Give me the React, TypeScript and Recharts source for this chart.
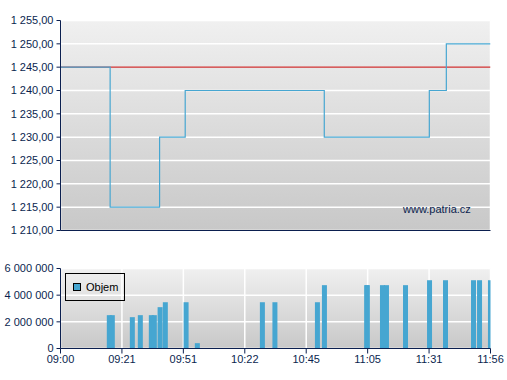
import React from 'react';
import { ComposedChart, Line, Bar, XAxis, YAxis, CartesianGrid, Legend } from 'recharts';

// x positions are in "tick slots": 0 = 09:00, 7 = 11:56 (axis is evenly spaced, not linear in time)
const timeLabels = ['09:00', '09:21', '09:51', '10:22', '10:45', '11:05', '11:31', '11:56'];
const slotTicks = [0, 1, 2, 3, 4, 5, 6, 7];

const priceX = [0, 0.808, 1.613, 2.03, 4.294, 6.004, 6.281, 7];
const priceY = [1245, 1215, 1230, 1240, 1230, 1240, 1250, 1250];
const prevClose = 1245;
const priceTicks = [1210, 1215, 1220, 1225, 1230, 1235, 1240, 1245, 1250, 1255];

const volX = [
  0.795, 0.844, 1.17, 1.3, 1.479, 1.528, 1.622, 1.707, 2.045, 2.228,
  3.287, 3.491, 4.183, 4.297, 4.985, 4.995, 5.242, 5.307, 5.617, 6.008,
  6.268, 6.724, 6.822, 7.0,
];
const volY = [
  2500000, 2500000, 2350000, 2500000, 2500000, 2500000, 3100000, 3470000, 3470000, 400000,
  3470000, 3470000, 3470000, 4750000, 4750000, 4750000, 4750000, 4750000, 4750000, 5120000,
  5120000, 5120000, 5120000, 5120000,
];
const volTicks = [0, 2000000, 4000000, 6000000];

const priceData = priceX.map((x, i) => ({ x, price: priceY[i] }));
const prevData = [{ x: 0, prev: prevClose }, { x: 7, prev: prevClose }];
const volData = volX.map((x, i) => ({ x, vol: volY[i] }));

const BLUE = '#46a6d1';
const NAVY = '#0b1f4f';
const FONT = '"Liberation Sans", Arial, sans-serif';
const tickStyle = { fontSize: 11, fill: NAVY, fontFamily: FONT };

// thousands grouped with a non-breaking space so the tick text never wraps
const groupSpace = (n: number) => {
  const s = Math.round(n).toString();
  return s.replace(/\B(?=(\d{3})+(?!\d))/g, '\u00a0');
};
const fmtPrice = (v: number) => groupSpace(Math.floor(v)) + ',' + v.toFixed(2).split('.')[1];

// keep a fixed bar width no matter how close two trades are
const VolBar = (p: any) => {
  const cx = p.x + p.width / 2;
  return <rect x={cx - 2.5} y={p.y} width={5} height={p.height} fill={BLUE} />;
};

const LegendBox = () => (
  <div
    style={{
      width: 58,
      height: 26,
      border: '1px solid #000',
      display: 'flex',
      alignItems: 'center',
      fontFamily: FONT,
      fontSize: 11,
      color: '#000',
    }}
  >
    <span
      style={{
        display: 'inline-block',
        width: 6,
        height: 6,
        background: BLUE,
        border: '1px solid #000',
        marginLeft: 7,
        marginRight: 5,
      }}
    />
    Objem
  </div>
);

export default function App() {
  return (
    <div style={{ position: 'absolute', left: 0, top: 0, width: 507, height: 380, background: '#fff' }}>
      <div style={{ position: 'absolute', left: 0, top: 0 }}>
        <ComposedChart width={507} height={241} margin={{ top: 20.5, right: 16.5, bottom: 0.5, left: 0.5 }}>
          <defs>
            <linearGradient id="bgTop" x1="0" y1="0" x2="0" y2="1">
              <stop offset="0%" stopColor="#f0f0f0" />
              <stop offset="100%" stopColor="#c8c8c8" />
            </linearGradient>
          </defs>
          <CartesianGrid stroke="#ffffff" strokeWidth={1.5} fill="url(#bgTop)" fillOpacity={1} />
          <XAxis
            type="number"
            dataKey="x"
            domain={[0, 7]}
            ticks={slotTicks}
            allowDataOverflow
            tick={false}
            tickSize={5}
            height={10}
            stroke={NAVY}
          />
          <YAxis
            type="number"
            domain={[1210, 1255]}
            ticks={priceTicks}
            tickFormatter={fmtPrice}
            tick={tickStyle}
            tickSize={4}
            tickMargin={3}
            width={60}
            stroke={NAVY}
            allowDataOverflow
          />
          <Line
            data={prevData}
            dataKey="prev"
            type="linear"
            stroke="#c82828"
            strokeWidth={1.2}
            dot={false}
            isAnimationActive={false}
          />
          <Line
            data={priceData}
            dataKey="price"
            type="stepAfter"
            stroke={BLUE}
            strokeWidth={1.2}
            dot={false}
            isAnimationActive={false}
          />
        </ComposedChart>
      </div>
      <div
        style={{
          position: 'absolute',
          left: 403,
          top: 204,
          fontFamily: FONT,
          fontSize: 11,
          lineHeight: '11px',
          color: NAVY,
        }}
      >
        www.patria.cz
      </div>
      <div style={{ position: 'absolute', left: 0, top: 250 }}>
        <ComposedChart width={507} height={130} data={volData} margin={{ top: 18.5, right: 16.5, bottom: 11.5, left: 0.5 }}>
          <defs>
            <linearGradient id="bgBottom" x1="0" y1="0" x2="0" y2="1">
              <stop offset="0%" stopColor="#f0f0f0" />
              <stop offset="100%" stopColor="#c8c8c8" />
            </linearGradient>
          </defs>
          <CartesianGrid stroke="#ffffff" strokeWidth={1.5} fill="url(#bgBottom)" fillOpacity={1} />
          <XAxis
            type="number"
            dataKey="x"
            domain={[0, 7]}
            ticks={slotTicks}
            allowDataOverflow
            tickFormatter={(v: number) => timeLabels[v]}
            tick={tickStyle}
            tickSize={5}
            tickMargin={2}
            height={20}
            stroke={NAVY}
            interval={0}
          />
          <YAxis
            type="number"
            domain={[0, 6000000]}
            ticks={volTicks}
            tickFormatter={groupSpace}
            tick={tickStyle}
            tickSize={4}
            tickMargin={3}
            width={60}
            stroke={NAVY}
          />
          <Legend
            layout="horizontal"
            verticalAlign="middle"
            align="center"
            content={() => <LegendBox />}
            wrapperStyle={{ position: 'absolute', left: 65, top: 23, width: 60, height: 28 }}
          />
          <Bar dataKey="vol" name="Objem" fill={BLUE} barSize={5} shape={VolBar} isAnimationActive={false} />
        </ComposedChart>
      </div>
    </div>
  );
}
